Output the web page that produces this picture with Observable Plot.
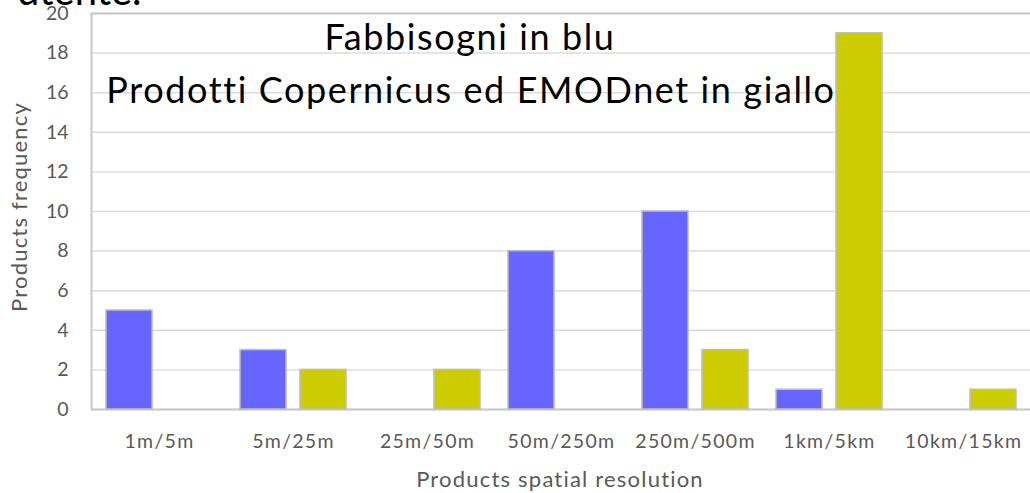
<!DOCTYPE html>
<html>
<head>
<meta charset="utf-8">
<script src="https://cdn.jsdelivr.net/npm/d3@7"></script>
<script src="https://cdn.jsdelivr.net/npm/@observablehq/plot@0.6"></script>
<style>
  html, body { margin: 0; padding: 0; background: #fff; overflow: hidden; width: 1030px; height: 493px; }
  #chart { position: relative; width: 1030px; height: 493px; overflow: hidden; }
  #chart svg { max-width: none !important; }
</style>
</head>
<body>
<div id="chart"></div>
<script>
// ---- data ----
const categories = ["1m/5m", "5m/25m", "25m/50m", "50m/250m", "250m/500m", "1km/5km", "10km/15km"];
const needs = [5, 3, 0, 8, 10, 1, 0];          // Fabbisogni (blu)
const products = [0, 2, 2, 0, 3, 19, 1];       // Prodotti Copernicus ed EMODnet (giallo)
const yTicks = [0, 2, 4, 6, 8, 10, 12, 14, 16, 18, 20];
const titleLines = ["Fabbisogni in blu", "Prodotti Copernicus ed EMODnet in giallo"];
const yLabel = "Products frequency";
const xLabel = "Products spatial resolution";
const cutText = "utente.";

const needsRows = categories.map((c, i) => ({cat: c, value: needs[i]})).filter(d => d.value > 0);
const productRows = categories.map((c, i) => ({cat: c, value: products[i]})).filter(d => d.value > 0);

const svg = Plot.plot({
  width: 1040,
  height: 493,
  marginLeft: 91,
  marginRight: 9,
  marginTop: 13,
  marginBottom: 84,
  style: {fontFamily: "Lato, sans-serif", fontSize: "19.5px", color: "#595959", background: "transparent", maxWidth: "none"},
  x: {domain: categories, padding: 0, label: null, tickSize: 0, tickPadding: 25},
  y: {domain: [0, 20], ticks: yTicks, tickSize: 0, tickPadding: 23, label: null},
  marks: [
    Plot.ruleY(yTicks, {stroke: "#dcdcdc", strokeWidth: 1.5}),
    Plot.frame({stroke: "#c8c8c8", strokeWidth: 2}),
    Plot.barY(needsRows, {x: "cat", y: "value", fill: "#6666ff", stroke: "#bdbdbd", strokeWidth: 1.5, insetLeft: 14, insetRight: 74}),
    Plot.barY(productRows, {x: "cat", y: "value", fill: "#cccc00", stroke: "#bdbdbd", strokeWidth: 1.5, insetLeft: 74, insetRight: 14})
  ]
});
document.getElementById("chart").appendChild(svg);

const s = d3.select(svg);
// widen x tick labels a little (Calibri-like proportions)
s.selectAll("[aria-label='x-axis tick label'] text, g[aria-label='x-axis'] text").attr("letter-spacing", 1.3);

s.append("text").text(titleLines[0])
  .attr("x", 470).attr("y", 50).attr("text-anchor", "middle")
  .attr("font-family", "Lato, sans-serif").attr("font-size", 36).attr("letter-spacing", 1.6).attr("fill", "#000");
s.append("text").text(titleLines[1])
  .attr("x", 471).attr("y", 103).attr("text-anchor", "middle")
  .attr("font-family", "Lato, sans-serif").attr("font-size", 36).attr("letter-spacing", 1.6).attr("fill", "#000");
s.append("text").text(yLabel)
  .attr("transform", "translate(27,207) rotate(-90)").attr("text-anchor", "middle")
  .attr("font-family", "Lato, sans-serif").attr("font-size", 22).attr("letter-spacing", 1.2).attr("fill", "#595959");
s.append("text").text(xLabel)
  .attr("x", 560).attr("y", 487).attr("text-anchor", "middle")
  .attr("font-family", "Lato, sans-serif").attr("font-size", 22).attr("letter-spacing", 1.2).attr("fill", "#595959");
s.append("text").text(cutText)
  .attr("x", 17).attr("y", 5).attr("text-anchor", "start")
  .attr("font-family", "Lato, sans-serif").attr("font-size", 40).attr("fill", "#000");
</script>
</body>
</html>
